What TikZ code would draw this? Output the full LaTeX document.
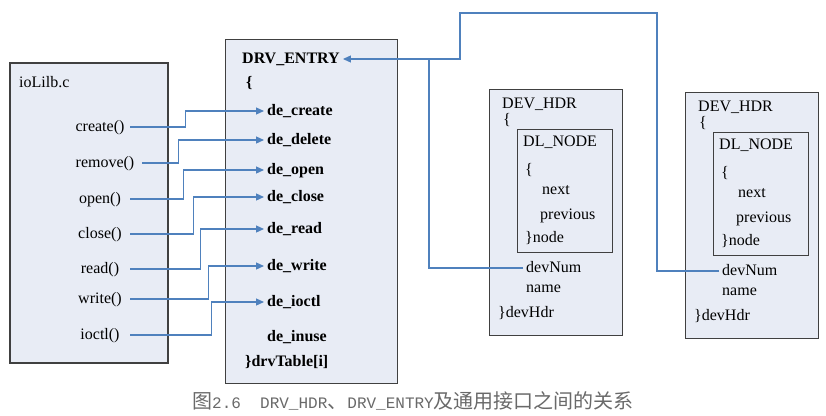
\documentclass[tikz,border=0pt]{standalone}
\usepackage{fontspec}
\setmainfont{Liberation Serif}
\newfontfamily\cjk{Noto Sans CJK SC}
\newfontfamily\capmono{Liberation Mono}
\usetikzlibrary{arrows.meta,positioning}
\definecolor{boxfill}{RGB}{232,236,245}
\definecolor{boxline}{RGB}{64,64,64}
\definecolor{linkblue}{RGB}{79,129,189}
\definecolor{capgray}{RGB}{105,105,105}
\newcommand{\capl}[1]{{\capmono\fontsize{16}{24}\selectfont #1}}

\begin{document}
\begin{tikzpicture}[x=1pt,y=-1pt,
box/.style={draw=boxline, fill=boxfill, line width=1.3pt, anchor=north west, inner sep=0pt},
txt/.style={anchor=west, inner xsep=3pt, inner ysep=0pt, text height=11pt, text depth=3pt, font=\fontsize{16}{18}\selectfont},
btxt/.style={txt, font=\fontsize{16}{18}\selectfont\bfseries},
fn/.style={txt, anchor=center, minimum width=60pt},
link/.style={draw=linkblue, line width=1.2pt},
arr/.style={link, -{Triangle[length=8pt,width=7pt]}}
]
\useasboundingbox (0,0) rectangle (826,415);
% Boxes
\node[box, minimum width=158pt, minimum height=300pt, line width=1.8pt] (iolib) at (9,62) {};
\node[box, minimum width=172pt, minimum height=344pt] (drv) at (225,39) {};
%ioLib functions
\node[txt] (lib) at (16,83) {ioLilb.c};
\node[fn] (f1) at (100,127) {create()};
\node[fn, minimum width=74pt] (f2) at (105,163) {remove()};
\node[fn] (f3) at (100,199) {open()};
\node[fn] (f4) at (100,234) {close()};
\node[fn] (f5) at (100,269) {read()};
\node[fn] (f6) at (100,299) {write()};
\node[fn] (f7) at (100,335) {ioctl()};
% DRV_ENTRY fields
\node[btxt] (entry) at (239,59) {DRV\_ENTRY};
\node[btxt] (lb) at (243,83) {\{};
\node[btxt] (d1) at (264,111) {de\_create};
\node[btxt] (d2) at (264,140) {de\_delete};
\node[btxt] (d3) at (264,170) {de\_open};
\node[btxt] (d4) at (264,197) {de\_close};
\node[btxt] (d5) at (264,229) {de\_read};
\node[btxt] (d6) at (264,266) {de\_write};
\node[btxt] (d7) at (264,302) {de\_ioctl};
\node[btxt] (d8) at (264,337) {de\_inuse};
\node[btxt] (tab) at (242,362) {\}drvTable[i]};
%Lines
\foreach \i/\j in {1/55, 2/36, 3/53, 4/63, 5/70, 6/78, 7/81}
  \draw[arr] (f\i.east) -- ++(\j,0) |- (d\i.west);
% DEV_HDR boxes
\foreach \k/\dx/\dy in {1/0/0, 2/196/3}{
  \begin{scope}[shift={(\dx,\dy)}]
  \node[box, minimum width=133pt, minimum height=246pt] (dev\k) at (489,89) {};
  \node[box, minimum width=95pt, minimum height=123pt] (dl\k) at (517,129) {};
  \node[txt] (hdr\k) at (499,104) {DEV\_HDR};
  \node[txt] (ob\k) at (500,120) {\{};
  \node[txt] (dln\k) at (520,142) {DL\_NODE};
  \node[txt] (ib\k) at (522,170) {\{};
  \node[txt] (nx\k) at (539,190) {next};
  \node[txt] (pv\k) at (537,215) {previous};
  \node[txt] (nd\k) at (522,238) {\}node};
  \node[txt] (num\k) at (523,268) {devNum};
  \node[txt] (nm\k) at (523,288) {name};
  \node[txt] (hd\k) at (495,313) {\}devHdr};
  \end{scope}
}
%Links to DRV_ENTRY
\coordinate (jn) at (429,59);
\coordinate (top) at (657,13);
\coordinate (drop) at (460,59);
\draw[link] (num1.west) -| (jn);
\draw[arr] (num2.west) -| (top) -| (drop) -- (entry.east);
% Caption
\node[text=capgray, font=\cjk\fontsize{20}{24}\selectfont] (cap) at (413,401) {图\capl{2.6\ \ DRV\_HDR}、\capl{DRV\_ENTRY}及通用接口之间的关系};
\end{tikzpicture}
\end{document}
